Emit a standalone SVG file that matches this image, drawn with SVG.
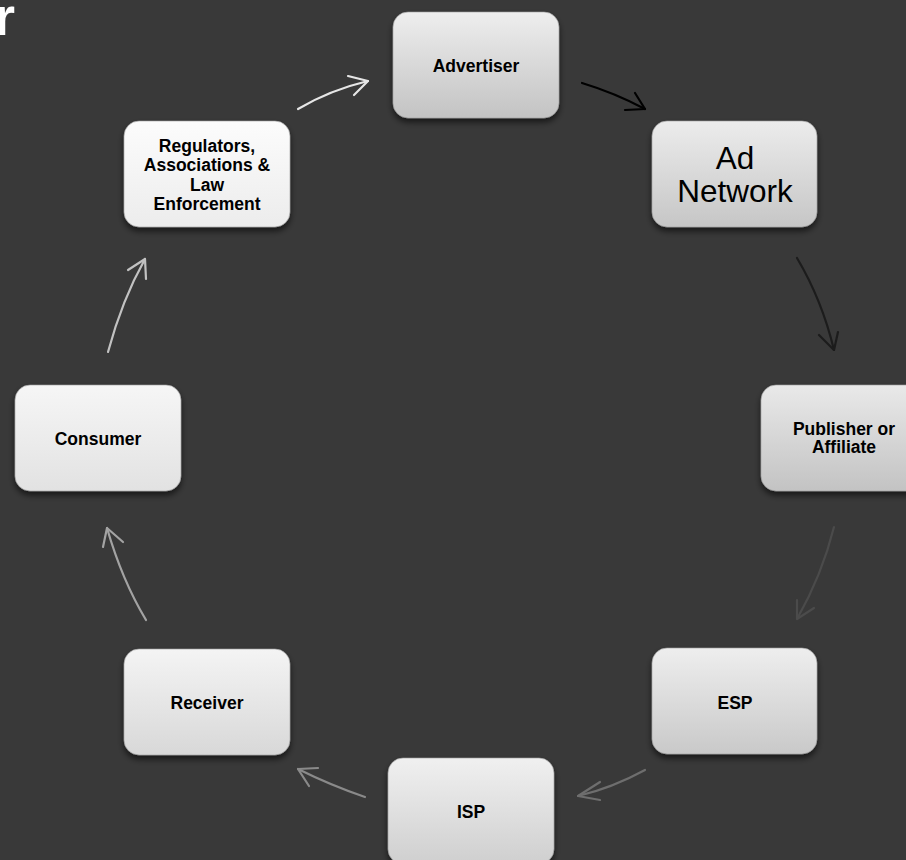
<svg xmlns="http://www.w3.org/2000/svg" width="906" height="860" viewBox="0 0 906 860">
<defs>
<style>
.box{stroke:#9a9a9a;stroke-width:0.6;filter:url(#sh)}
.lb{font-family:"Liberation Sans",Arial,sans-serif;font-weight:bold;font-size:17.5px;fill:#000;text-anchor:middle}
.lr{font-family:"Liberation Sans",Arial,sans-serif;font-size:31.5px;fill:#000;text-anchor:middle}
.c{fill:none;stroke-width:2.2;stroke-linecap:round;stroke-linejoin:round}
</style>
<filter id="sh" x="-20%" y="-20%" width="140%" height="150%">
<feGaussianBlur in="SourceAlpha" stdDeviation="3"/>
<feOffset dx="0" dy="4" result="b"/>
<feComponentTransfer><feFuncA type="linear" slope="0.6"/></feComponentTransfer>
<feMerge><feMergeNode/><feMergeNode in="SourceGraphic"/></feMerge>
</filter>
<linearGradient id="g1" x1="0" y1="0" x2="0" y2="1"><stop offset="0" stop-color="#eeeeee"/><stop offset="1" stop-color="#c3c3c3"/></linearGradient>
<linearGradient id="g2" x1="0" y1="0" x2="0" y2="1"><stop offset="0" stop-color="#ececec"/><stop offset="1" stop-color="#c6c6c6"/></linearGradient>
<linearGradient id="g3" x1="0" y1="0" x2="0" y2="1"><stop offset="0" stop-color="#e9e9e9"/><stop offset="1" stop-color="#c3c3c3"/></linearGradient>
<linearGradient id="g4" x1="0" y1="0" x2="0" y2="1"><stop offset="0" stop-color="#eeeeee"/><stop offset="1" stop-color="#c9c9c9"/></linearGradient>
<linearGradient id="g5" x1="0" y1="0" x2="0" y2="1"><stop offset="0" stop-color="#f0f0f0"/><stop offset="1" stop-color="#cfcfcf"/></linearGradient>
<linearGradient id="g6" x1="0" y1="0" x2="0" y2="1"><stop offset="0" stop-color="#f4f4f4"/><stop offset="1" stop-color="#d8d8d8"/></linearGradient>
<linearGradient id="g7" x1="0" y1="0" x2="0" y2="1"><stop offset="0" stop-color="#f6f6f6"/><stop offset="1" stop-color="#e2e2e2"/></linearGradient>
<linearGradient id="g8" x1="0" y1="0" x2="0" y2="1"><stop offset="0" stop-color="#fcfcfc"/><stop offset="1" stop-color="#ececec"/></linearGradient>
</defs>
<rect x="0" y="0" width="906" height="860" fill="#393939"/>
<text x="15" y="35" text-anchor="end" font-family="'Liberation Sans',Arial,sans-serif" font-weight="bold" font-size="54" fill="#ffffff">r</text>

<g id="connectors">
<g stroke="#000000" class="c"><path d="M582,83 Q615,93 645,109"/><path d="M635,93 L645,109 L625,110"/></g>
<g stroke="#1c1c1c" class="c"><path d="M797,258 Q822,300 834,350"/><path d="M838,332 L834,350 L819,335"/></g>
<g stroke="#4b4b4b" class="c"><path d="M834,527 Q822,575 797,619"/><path d="M797,600 L797,619 L814,608"/></g>
<g stroke="#6e6e6e" class="c"><path d="M645,770 Q612,788 578,796"/><path d="M600,782 L578,796 L600,800"/></g>
<g stroke="#8a8a8a" class="c"><path d="M365,797 Q330,785 298,769"/><path d="M318,768 L298,769 L309,786"/></g>
<g stroke="#a3a3a3" class="c"><path d="M146,620 Q122,580 107,528"/><path d="M103,547 L107,528 L123,542"/></g>
<g stroke="#c2c2c2" class="c"><path d="M108,352 Q122,300 145,259"/><path d="M128,270 L145,259 L146,279"/></g>
<g stroke="#e6e6e6" class="c"><path d="M298,109 Q330,90 368,81"/><path d="M348,76 L368,81 L354,95"/></g>
</g>

<g id="advertiser"><rect class="box" x="393" y="12" width="166" height="106" rx="15" fill="url(#g1)"/><text class="lb" x="476" y="72">Advertiser</text></g>
<g id="ad-network"><rect class="box" x="652" y="121" width="165" height="106" rx="15" fill="url(#g2)"/><text class="lr" x="735" y="169">Ad</text><text class="lr" x="735" y="202">Network</text></g>
<g id="publisher"><rect class="box" x="761" y="385" width="166" height="106" rx="15" fill="url(#g3)"/><text class="lb" x="844" y="435">Publisher or</text><text class="lb" x="844" y="453">Affiliate</text></g>
<g id="esp"><rect class="box" x="652" y="648" width="165" height="106" rx="15" fill="url(#g4)"/><text class="lb" x="735" y="709">ESP</text></g>
<g id="isp"><rect class="box" x="388" y="758" width="166" height="106" rx="15" fill="url(#g5)"/><text class="lb" x="471" y="818">ISP</text></g>
<g id="receiver"><rect class="box" x="124" y="649" width="166" height="106" rx="15" fill="url(#g6)"/><text class="lb" x="207" y="709">Receiver</text></g>
<g id="consumer"><rect class="box" x="15" y="385" width="166" height="106" rx="15" fill="url(#g7)"/><text class="lb" x="98" y="445">Consumer</text></g>
<g id="regulators"><rect class="box" x="124" y="121" width="166" height="106" rx="15" fill="url(#g8)"/><text class="lb" x="207" y="152">Regulators,</text><text class="lb" x="207" y="171">Associations &amp;</text><text class="lb" x="207" y="191">Law</text><text class="lb" x="207" y="210">Enforcement</text></g>
</svg>
